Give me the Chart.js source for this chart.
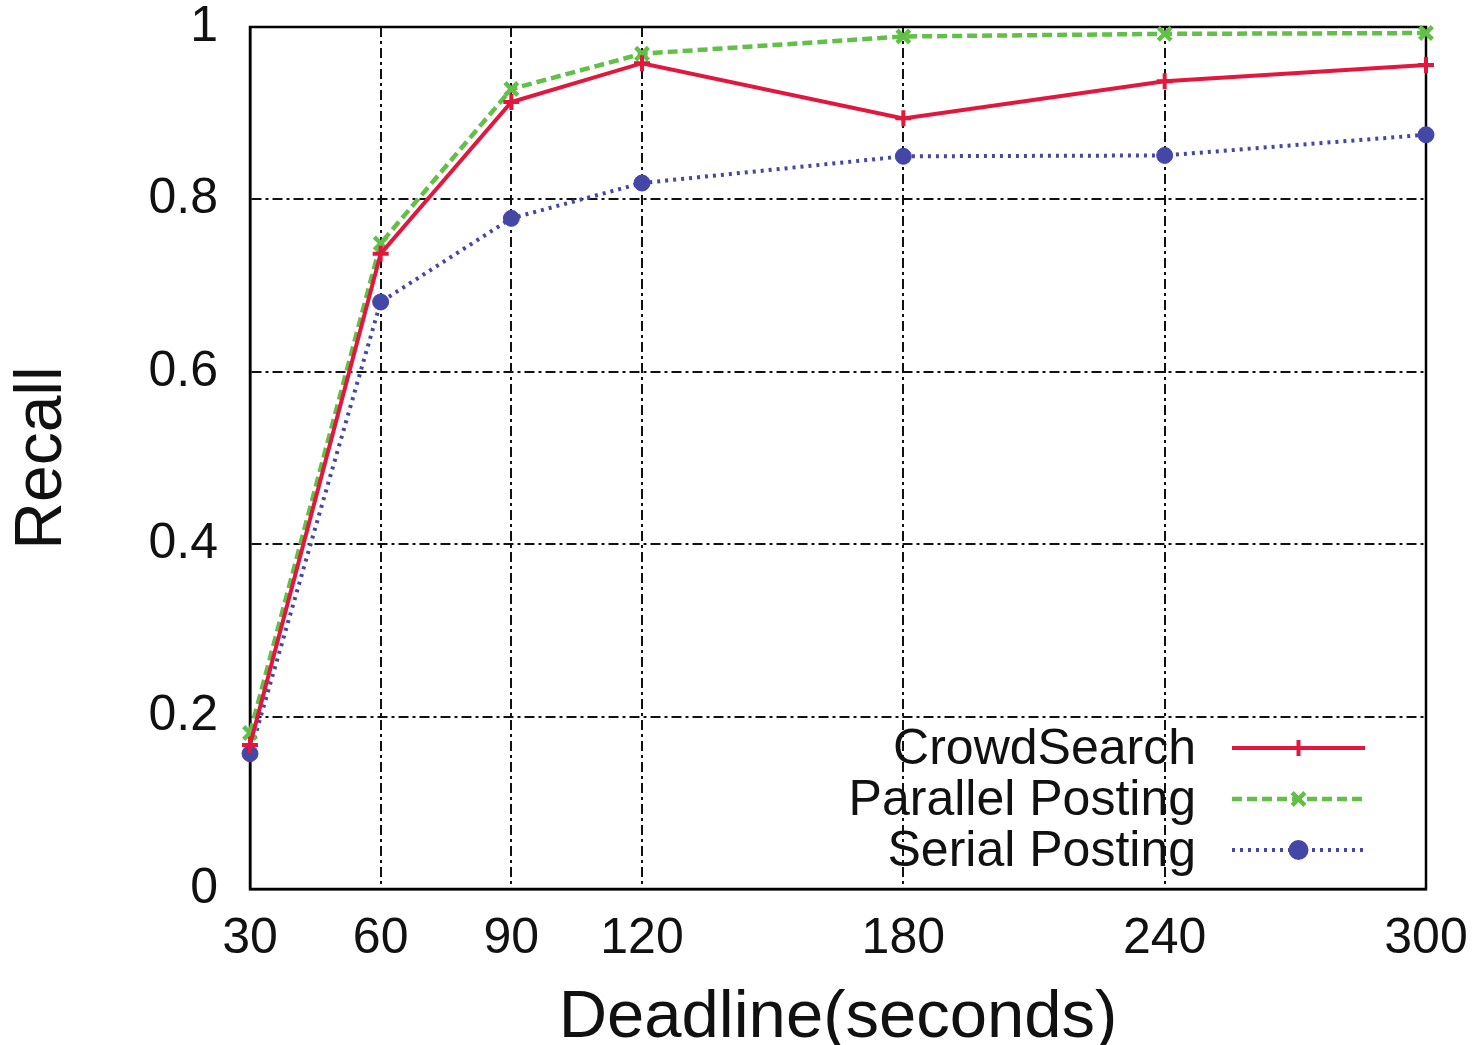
<!DOCTYPE html>
<html>
<head>
<meta charset="utf-8">
<script src="https://cdn.jsdelivr.net/npm/chart.js@4.4.1/dist/chart.umd.min.js"></script>
<style>
  html, body { margin: 0; padding: 0; background: #fff; }
</style>
</head>
<body>
<canvas id="chart" width="1481" height="1045"></canvas>
<script>
// values
const deadlines = [30, 60, 90, 120, 180, 240, 300];
const crowdSearch = [0.167, 0.737, 0.913, 0.958, 0.894, 0.937, 0.956];
const parallelPosting = [0.181, 0.749, 0.928, 0.969, 0.989, 0.992, 0.993];
const serialPosting = [0.157, 0.681, 0.778, 0.819, 0.850, 0.851, 0.875];
const seriesNames = ["CrowdSearch", "Parallel Posting", "Serial Posting"];

const FONT = "'Liberation Sans', Arial, sans-serif";

function pts(ys) {
  return deadlines.map((x, i) => ({ x: x, y: ys[i] }));
}

// full box round the plot area
const frame = {
  id: "frame",
  beforeDatasetsDraw(chart) {
    const { ctx, chartArea: a } = chart;
    ctx.save();
    ctx.strokeStyle = "#000";
    ctx.lineWidth = 2.5;
    ctx.strokeRect(a.left, a.top, a.right - a.left, a.bottom - a.top);
    ctx.restore();
  },
};

// gnuplot style key: text on the left, sample on the right
const key = {
  id: "key",
  afterDatasetsDraw(chart) {
    const { ctx, chartArea: a } = chart;
    const textRight = a.right - 230;
    const lineL = a.right - 194, lineR = a.right - 61;
    ctx.save();
    chart.data.datasets.forEach((ds, i) => {
      const y = a.bottom - 141 + i * 51;
      ctx.font = "50px " + FONT;
      ctx.fillStyle = "#111";
      ctx.textAlign = "right";
      ctx.textBaseline = "middle";
      ctx.fillText(ds.label, textRight, y + 2);

      ctx.strokeStyle = ds.borderColor;
      ctx.lineWidth = ds.borderWidth;
      ctx.setLineDash(ds.borderDash || []);
      ctx.beginPath();
      ctx.moveTo(lineL, y);
      ctx.lineTo(lineR, y);
      ctx.stroke();
      ctx.setLineDash([]);

      ctx.fillStyle = ds.pointBackgroundColor;
      ctx.strokeStyle = ds.pointBorderColor;
      Chart.helpers.drawPoint(ctx, {
        pointStyle: ds.pointStyle,
        radius: ds.pointRadius,
        rotation: 0,
        borderWidth: ds.pointBorderWidth,
      }, (lineL + lineR) / 2, y);
    });
    ctx.restore();
  },
};

new Chart(document.getElementById("chart"), {
  type: "line",
  data: {
    datasets: [
      {
        label: seriesNames[0],
        data: pts(crowdSearch),
        borderColor: "#e3173e",
        borderWidth: 4,
        pointStyle: "cross",
        pointRadius: 8,
        pointBorderWidth: 4,
        pointBorderColor: "#e3173e",
        pointBackgroundColor: "#e3173e",
      },
      {
        label: seriesNames[1],
        data: pts(parallelPosting),
        borderColor: "#62bf48",
        borderWidth: 4.5,
        borderDash: [10, 5],
        pointStyle: "crossRot",
        pointRadius: 9,
        pointBorderWidth: 4.5,
        pointBorderColor: "#62bf48",
        pointBackgroundColor: "#62bf48",
      },
      {
        label: seriesNames[2],
        data: pts(serialPosting),
        borderColor: "#4447a6",
        borderWidth: 4,
        borderDash: [3, 5],
        pointStyle: "circle",
        pointRadius: 8,
        pointBorderWidth: 1,
        pointBorderColor: "#4447a6",
        pointBackgroundColor: "#4447a6",
      },
    ],
  },
  options: {
    responsive: false,
    animation: false,
    clip: false,
    tension: 0,
    layout: { padding: { top: 27, right: 55, left: 0, bottom: 0 } },
    plugins: {
      legend: { display: false },
      tooltip: { enabled: false },
    },
    scales: {
      x: {
        type: "linear",
        min: 30,
        max: 300,
        afterBuildTicks: (s) => { s.ticks = deadlines.map((v) => ({ value: v })); },
        afterFit: (s) => { s.height = 156; s.paddingLeft = 0; s.paddingRight = 0; },
        ticks: {
          color: "#111",
          font: { family: FONT, size: 50 },
          padding: 20,
          maxRotation: 0,
          autoSkip: false,
        },
        grid: { color: "#111", lineWidth: 2, drawTicks: false },
        border: { display: true, color: "#000", width: 2.5, dash: [10, 4, 3, 4] },
        title: {
          display: true,
          text: "Deadline(seconds)",
          color: "#111",
          font: { family: FONT, size: 67, lineHeight: 1.0 },
          padding: { top: 0, bottom: -7 },
        },
      },
      y: {
        min: 0,
        max: 1,
        afterFit: (s) => { s.width = 250; s.paddingTop = 0; s.paddingBottom = 0; },
        ticks: {
          stepSize: 0.2,
          color: "#111",
          font: { family: FONT, size: 50 },
          padding: 32,
          callback: (v) => String(+v.toFixed(1)),
        },
        grid: { color: "#111", lineWidth: 2, drawTicks: false },
        border: { display: true, color: "#000", width: 2.5, dash: [10, 4, 3, 4] },
        title: {
          display: true,
          text: "Recall",
          color: "#111",
          font: { family: FONT, size: 66, lineHeight: 1.0 },
          padding: { top: 10, bottom: 0 },
        },
      },
    },
  },
  plugins: [frame, key],
});
</script>
</body>
</html>
